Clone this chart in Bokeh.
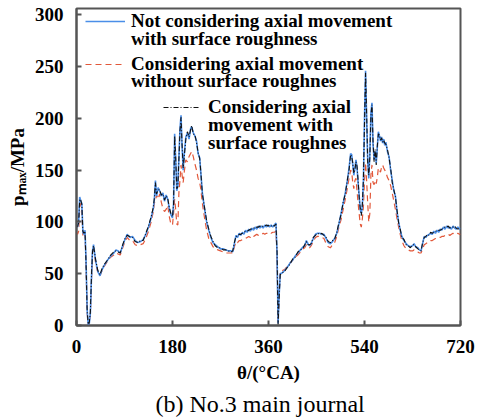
from bokeh.plotting import figure
from bokeh.models import FixedTicker, Legend, LegendItem, ColumnDataSource, Title
from bokeh.embed import file_html
from bokeh.resources import INLINE

# Crank angle (deg CA)
theta = [0, 2, 4, 6, 8, 10, 12, 14, 16, 18, 20, 22, 24, 26, 28, 30, 32, 34, 36, 40,
         44, 48, 52, 58, 64, 70, 74, 78, 82, 86, 90, 95, 100, 105, 110, 115, 120, 125, 130, 135,
         140, 144, 146, 148, 150, 153, 156, 159, 162, 165, 168, 171, 174, 177, 180, 182, 184, 186, 188, 190,
         192, 194, 196, 198, 200, 202, 205, 208, 211, 214, 216, 219, 222, 225, 228, 231, 233, 236, 240, 244,
         248, 252, 256, 260, 265, 270, 275, 280, 285, 290, 293, 296, 299, 302, 305, 308, 311, 314, 317, 320,
         323, 326, 329, 332, 335, 338, 341, 344, 347, 350, 353, 356, 359, 362, 365, 368, 371, 374, 376, 378,
         380, 382, 386, 390, 395, 400, 405, 410, 415, 420, 425, 428, 431, 434, 437, 440, 444, 448, 452, 456,
         460, 464, 468, 472, 476, 480, 484, 488, 492, 496, 500, 504, 508, 511, 514, 516, 518, 520, 522, 524,
         526, 528, 530, 532, 534, 536, 538, 540, 542, 544, 546, 548, 550, 552, 554, 556, 558, 560, 562, 564,
         566, 568, 570, 572, 574, 576, 578, 580, 583, 586, 589, 592, 595, 598, 601, 604, 607, 610, 614, 618,
         622, 626, 630, 633, 636, 640, 643, 646, 649, 652, 655, 658, 661, 664, 667, 670, 673, 676, 679, 682,
         685, 688, 691, 694, 697, 700, 703, 706, 709, 712, 715, 718, 720]

# Maximum oil-film pressure (MPa): no axial movement, with surface roughness
p_no_axial = [97, 95, 100, 124, 120, 118, 90, 88, 92, 60, 15, 0, 2, 12, 45, 72, 78, 70, 62, 52,
              48, 54, 58, 63, 67, 70, 73, 72, 70, 76, 82, 88, 85, 86, 82, 80, 81, 83, 88, 95,
              104, 113, 122, 140, 125, 133, 130, 125, 128, 120, 126, 122, 113, 107, 104, 118, 185, 160, 130, 135,
              162, 190, 203, 172, 150, 165, 182, 186, 180, 190, 192, 186, 183, 178, 166, 162, 148, 128, 113, 100,
              92, 85, 80, 78, 76, 74, 74, 73, 72, 72, 71, 79, 87, 85, 89, 87, 90, 88, 92, 90,
              93, 91, 94, 92, 95, 93, 96, 94, 96, 94, 97, 95, 97, 95, 97, 95, 97, 99, 70, 2,
              30, 50, 51, 53, 56, 60, 63, 67, 70, 73, 76, 77, 82, 79, 77, 79, 84, 88, 89, 89,
              88, 88, 84, 80, 79, 81, 84, 89, 98, 108, 118, 128, 140, 152, 166, 165, 155, 145, 152, 160,
              152, 138, 125, 112, 108, 115, 140, 200, 246, 200, 160, 142, 165, 205, 215, 175, 160, 168, 157, 172,
              187, 183, 178, 182, 176, 180, 174, 177, 168, 163, 150, 140, 130, 125, 110, 100, 92, 86, 82, 79,
              77, 76, 77, 79, 76, 75, 73, 72, 79, 86, 85, 87, 88, 89, 88, 91, 89, 92, 90, 93,
              92, 95, 93, 96, 94, 95, 93, 96, 94, 93, 95, 93, 94]

# Axial movement, smooth surface
p_axial_smooth = [90, 88, 91, 114, 118, 110, 86, 85, 88, 55, 12, 0, 1, 10, 42, 70, 75, 68, 60, 51,
                  48, 53, 57, 62, 66, 68, 70, 69, 68, 74, 80, 85, 82, 82, 78, 77, 78, 79, 84, 91,
                  100, 110, 118, 120, 126, 122, 127, 119, 113, 110, 112, 116, 105, 98, 97, 108, 122, 112, 98, 97,
                  128, 140, 155, 145, 138, 148, 160, 158, 163, 166, 168, 163, 156, 150, 142, 138, 132, 118, 104, 92,
                  84, 80, 76, 74, 73, 72, 71, 70, 70, 70, 70, 76, 81, 80, 82, 82, 83, 84, 84, 85,
                  86, 85, 87, 86, 87, 88, 87, 88, 88, 89, 88, 89, 89, 90, 89, 90, 90, 91, 65, 3,
                  32, 52, 53, 54, 57, 60, 63, 66, 68, 71, 74, 75, 78, 76, 75, 77, 81, 85, 86, 86,
                  85, 84, 79, 76, 75, 78, 80, 86, 95, 102, 112, 122, 133, 142, 150, 148, 138, 132, 140, 142,
                  130, 118, 108, 98, 95, 103, 115, 140, 157, 140, 118, 100, 108, 145, 155, 138, 136, 140, 137, 143,
                  152, 150, 148, 153, 155, 152, 150, 148, 143, 140, 135, 128, 120, 112, 103, 95, 88, 82, 77, 74,
                  73, 72, 72, 73, 72, 71, 70, 70, 74, 78, 79, 80, 81, 82, 82, 83, 84, 84, 85, 85,
                  86, 86, 87, 87, 88, 87, 88, 89, 88, 88, 89, 88, 88]

# Axial movement, with surface roughness
p_axial_rough = [95, 96, 99, 122, 121, 117, 91, 89, 91, 58, 14, 1, 3, 13, 46, 71, 77, 70, 63, 53,
                 49, 55, 59, 63, 68, 71, 72, 71, 70, 77, 83, 87, 86, 85, 81, 80, 82, 82, 89, 96,
                 105, 114, 123, 138, 127, 131, 131, 126, 127, 121, 125, 123, 114, 108, 105, 117, 183, 162, 132, 134,
                 160, 188, 201, 174, 152, 163, 180, 187, 182, 189, 193, 185, 184, 177, 167, 161, 149, 127, 114, 101,
                 93, 86, 81, 77, 75, 75, 73, 73, 72, 71, 72, 80, 86, 86, 88, 88, 89, 90, 91, 91,
                 92, 93, 93, 94, 94, 95, 95, 96, 95, 96, 96, 97, 96, 97, 96, 97, 96, 98, 72, 1,
                 28, 49, 51, 52, 56, 59, 64, 66, 71, 73, 75, 78, 81, 78, 78, 79, 85, 87, 89, 88,
                 89, 87, 85, 81, 80, 82, 83, 90, 99, 107, 119, 127, 141, 150, 165, 163, 157, 147, 150, 158,
                 154, 140, 124, 113, 106, 117, 142, 195, 244, 205, 158, 145, 162, 203, 213, 178, 158, 170, 155, 173,
                 185, 184, 179, 181, 177, 179, 176, 175, 170, 162, 152, 138, 131, 124, 111, 99, 93, 85, 83, 78,
                 77, 75, 78, 78, 76, 74, 73, 72, 80, 85, 86, 88, 87, 90, 89, 90, 91, 91, 92, 92,
                 93, 94, 95, 95, 96, 94, 95, 95, 96, 94, 93, 94, 93]

x_ticks = [0, 180, 360, 540, 720]
y_ticks = [0, 50, 100, 150, 200, 250, 300]

legend_lines = {
    "blue": ["Not considering axial movement", "with surface roughness"],
    "red": ["Considering axial movement", "without surface roughnes"],
    "black": ["Considering axial", "movement with", "surface roughnes"],
}
x_label = "θ/(°CA)"
y_label = "pₘₐₓ/MPa"
caption = "(b) No.3 main journal"

SERIF = "Liberation Serif"
AXIS_GREY = "#555555"
BLUE = "#4a8ee8"
RED = "#e2583a"
BLACK = "#111111"

p = figure(width=494, height=419, output_backend="svg", toolbar_location=None,
           x_range=(0, 720), y_range=(0, 306),
           min_border_left=76, min_border_right=34, min_border_top=8, min_border_bottom=94)

p.grid.visible = False
p.outline_line_color = AXIS_GREY
p.outline_line_width = 2
p.background_fill_color = "white"
p.border_fill_color = "white"

for ax in (p.xaxis[0], p.yaxis[0]):
    ax.axis_line_color = AXIS_GREY
    ax.axis_line_width = 2
    ax.major_tick_line_color = AXIS_GREY
    ax.major_tick_line_width = 2
    ax.major_tick_in = 5
    ax.major_tick_out = 0
    ax.minor_tick_line_color = None
    ax.major_label_text_font = SERIF
    ax.major_label_text_font_style = "bold"
    ax.major_label_text_font_size = "19px"
    ax.major_label_text_color = "black"
    ax.axis_label_text_font = SERIF
    ax.axis_label_text_font_style = "bold"
    ax.axis_label_text_font_size = "19px"
    ax.axis_label_text_color = "black"

p.xaxis.major_label_standoff = 14
p.xaxis.major_label_text_line_height = 1.0
p.yaxis.major_label_standoff = 13
p.xaxis.axis_label = x_label
p.xaxis.axis_label_standoff = 6
p.xaxis.axis_label_text_line_height = 1.0
p.yaxis.axis_label = y_label
p.yaxis.axis_label_standoff = 4

p.xaxis.ticker = FixedTicker(ticks=x_ticks)
p.yaxis.ticker = FixedTicker(ticks=y_ticks)

src = ColumnDataSource(dict(theta=theta, a=p_no_axial, b=p_axial_smooth, c=p_axial_rough))

r_red = p.line("theta", "b", source=src, line_color=RED, line_width=1.2, line_dash="6 4")
r_blue = p.line("theta", "a", source=src, line_color=BLUE, line_width=1.6)
r_black = p.line("theta", "c", source=src, line_color=BLACK, line_width=1.1, line_dash="5 2 1 2")

# invisible renderer for continuation lines of multi-line legend labels
r_blank = p.line(x=[], y=[], line_alpha=0)


def legend_row(renderer, text, loc, glyph_w, standoff):
    # one legend row per text line so the line spacing can be set freely
    lg = Legend(items=[LegendItem(label=text, renderers=[renderer])], location=loc,
                glyph_width=glyph_w, glyph_height=18, label_height=18, label_standoff=standoff,
                spacing=0, padding=0, margin=0,
                border_line_alpha=0, background_fill_alpha=0,
                label_text_font=SERIF, label_text_font_style="bold",
                label_text_font_size="19px", label_text_color="black")
    p.add_layout(lg, "center")


def legend_entry(renderer, lines, x0, y_tops, glyph_w, standoff):
    for i, (text, yy) in enumerate(zip(lines, y_tops)):
        legend_row(renderer if i == 0 else r_blank, text, (x0, yy), glyph_w, standoff)


legend_entry(r_blue, legend_lines["blue"], 9, [293, 275], 40, 6)
legend_entry(r_red, legend_lines["red"], 9, [250, 233], 40, 6)
legend_entry(r_black, legend_lines["black"], 87, [207, 189, 171], 36, 9)

p.add_layout(Title(text=caption, align="left", offset=79, standoff=6,
                   text_font=SERIF, text_font_style="normal", text_font_size="24px",
                   text_line_height=1.0, text_color="black"), "below")

open("out.html", "w").write(file_html(p, INLINE))
